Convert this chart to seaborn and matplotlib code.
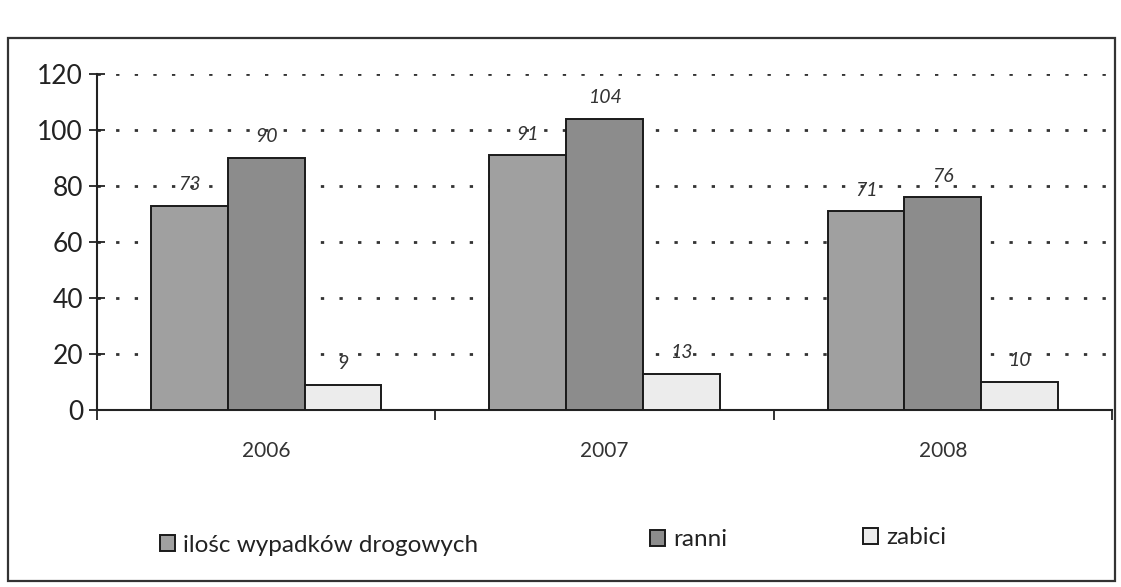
import matplotlib
matplotlib.use("Agg")
import matplotlib.pyplot as plt
import seaborn as sns
import pandas as pd
from matplotlib.patches import Rectangle

years = ["2006", "2007", "2008"]
series_names = ["ilośc wypadków drogowych", "ranni", "zabici"]
wypadki = [73, 91, 71]
ranni = [90, 104, 76]
zabici = [9, 13, 10]
y_ticks = [0, 20, 40, 60, 80, 100, 120]

df = pd.DataFrame({
    "rok": years * 3,
    "seria": [series_names[0]] * 3 + [series_names[1]] * 3 + [series_names[2]] * 3,
    "wartosc": wypadki + ranni + zabici,
})

sns.set_theme(style="white")
plt.rcParams["font.family"] = ["Lato", "DejaVu Sans"]

fig = plt.figure(figsize=(11.21, 5.87), dpi=100)
ax = fig.add_axes([97 / 1121, 1 - 410 / 587, (1112 - 97) / 1121, (410 - 74) / 587])

palette = {series_names[0]: "#a0a0a0", series_names[1]: "#8c8c8c", series_names[2]: "#ececec"}
sns.barplot(data=df, x="rok", y="wartosc", hue="seria", hue_order=series_names,
            order=years, palette=palette, width=0.68, edgecolor="#1a1a1a",
            linewidth=1.4, saturation=1, ax=ax, zorder=3)

for cont in ax.containers:
    ax.bar_label(cont, fmt="%d", padding=9, fontsize=14, fontstyle="italic",
                 color="#333333", zorder=4)

ax.set_ylim(0, 120)
ax.set_xlim(-0.5, 2.5)
ax.set_yticks(y_ticks)
ax.set_yticklabels([str(t) for t in y_ticks], fontsize=19, color="#222222")
ax.set_xlabel("")
ax.set_ylabel("")
ax.tick_params(axis="y", direction="inout", length=12, width=1.3, color="#222222", pad=4, left=True)
ax.tick_params(axis="x", which="major", length=0, labelsize=15, labelcolor="#333333", pad=22)
ax.set_xticks([-0.5, 0.5, 1.5, 2.5], minor=True)
ax.tick_params(axis="x", which="minor", direction="out", length=7, width=1.3, color="#222222", bottom=True)

ax.yaxis.grid(True, linestyle=(0, (1.2, 5.5)), linewidth=2.0, color="#333333", zorder=0)
ax.xaxis.grid(False)
ax.set_axisbelow(True)
for s in ["top", "right"]:
    ax.spines[s].set_visible(False)
for s in ["left", "bottom"]:
    ax.spines[s].set_color("#222222")
    ax.spines[s].set_linewidth(1.5)

handles, labels = ax.get_legend_handles_labels()
ax.get_legend().remove()
legend_x = [160, 650, 863]
legend_y = [545, 540, 538]
for h, l, lx, ly in zip(handles, labels, legend_x, legend_y):
    fig.legend([h], [l], loc="center left", bbox_to_anchor=(lx / 1121, 1 - ly / 587),
               frameon=False, fontsize=17.5, handlelength=0.6, handleheight=0.6,
               handletextpad=0.35, borderpad=0, borderaxespad=0, labelcolor="#222222")

fig.patches.append(Rectangle((8 / 1121, 1 - 581 / 587), (1115 - 8) / 1121, (581 - 38) / 587,
                             transform=fig.transFigure, fill=False, edgecolor="#333333",
                             linewidth=1.6))

fig.savefig("out.png", dpi=100, facecolor="white")
